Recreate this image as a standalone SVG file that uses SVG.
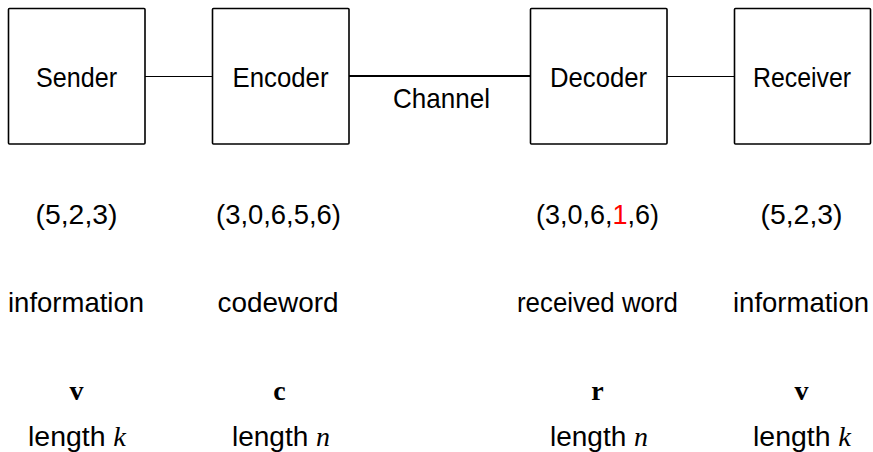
<svg xmlns="http://www.w3.org/2000/svg" width="873" height="452" viewBox="0 0 873 452">
<style>
.box{fill:#fff;stroke:#000;stroke-width:1.6}
.t{font-family:"Liberation Sans",Arial,sans-serif;font-size:27.5px;fill:#000;text-anchor:middle}
.b{font-family:"Liberation Serif","Times New Roman",serif;font-weight:bold;font-size:28px;fill:#000;text-anchor:middle}
.m{font-family:"Liberation Serif","Times New Roman",serif;font-style:italic}
.thin{stroke:#000;stroke-width:1;fill:none}
.thick{stroke:#000;stroke-width:2;fill:none}
</style>
<rect width="873" height="452" fill="#fff"/>
<g id="connectors">
<line class="thin" x1="145" y1="76.5" x2="212" y2="76.5"/>
<line class="thick" x1="349" y1="76" x2="530" y2="76"/>
<line class="thin" x1="667" y1="76.5" x2="734" y2="76.5"/>
<text class="t" x="441.5" y="107.5" textLength="97" lengthAdjust="spacingAndGlyphs">Channel</text>
</g>
<g id="sender">
<rect class="box" x="8.5" y="8.5" width="136.5" height="135.5" rx="1"/>
<text class="t" x="76.5" y="87" textLength="81" lengthAdjust="spacingAndGlyphs">Sender</text>
</g>
<g id="encoder">
<rect class="box" x="212.5" y="8.5" width="136.5" height="135.5" rx="1"/>
<text class="t" x="280.5" y="87" textLength="96" lengthAdjust="spacingAndGlyphs">Encoder</text>
</g>
<g id="decoder">
<rect class="box" x="530.5" y="8.5" width="136.5" height="135.5" rx="1"/>
<text class="t" x="598.5" y="87" textLength="97" lengthAdjust="spacingAndGlyphs">Decoder</text>
</g>
<g id="receiver">
<rect class="box" x="734.5" y="8.5" width="136" height="135.5" rx="1"/>
<text class="t" x="802" y="87" textLength="98" lengthAdjust="spacingAndGlyphs">Receiver</text>
</g>
<g id="sender-info">
<text class="t" x="76.5" y="224" textLength="82" lengthAdjust="spacingAndGlyphs">(5,2,3)</text>
<text class="t" x="76" y="312" textLength="136" lengthAdjust="spacingAndGlyphs">information</text>
<text class="b" x="76.5" y="400">v</text>
<text class="t" x="77" y="446" textLength="98" lengthAdjust="spacingAndGlyphs">length <tspan class="m">k</tspan></text>
</g>
<g id="encoder-info">
<text class="t" x="278.5" y="224" textLength="125" lengthAdjust="spacingAndGlyphs">(3,0,6,5,6)</text>
<text class="t" x="278" y="312" textLength="121" lengthAdjust="spacingAndGlyphs">codeword</text>
<text class="b" x="279.5" y="400">c</text>
<text class="t" x="281" y="446" textLength="98" lengthAdjust="spacingAndGlyphs">length <tspan class="m">n</tspan></text>
</g>
<g id="decoder-info">
<text class="t" x="597.5" y="224" textLength="123" lengthAdjust="spacingAndGlyphs">(3,0,6,<tspan fill="#ff0000">1</tspan>,6)</text>
<text class="t" x="597.5" y="312" textLength="161" lengthAdjust="spacingAndGlyphs">received word</text>
<text class="b" x="597.5" y="400">r</text>
<text class="t" x="599" y="446" textLength="98" lengthAdjust="spacingAndGlyphs">length <tspan class="m">n</tspan></text>
</g>
<g id="receiver-info">
<text class="t" x="801.5" y="224" textLength="82" lengthAdjust="spacingAndGlyphs">(5,2,3)</text>
<text class="t" x="801" y="312" textLength="136" lengthAdjust="spacingAndGlyphs">information</text>
<text class="b" x="801.5" y="400">v</text>
<text class="t" x="802" y="446" textLength="98" lengthAdjust="spacingAndGlyphs">length <tspan class="m">k</tspan></text>
</g>
</svg>
